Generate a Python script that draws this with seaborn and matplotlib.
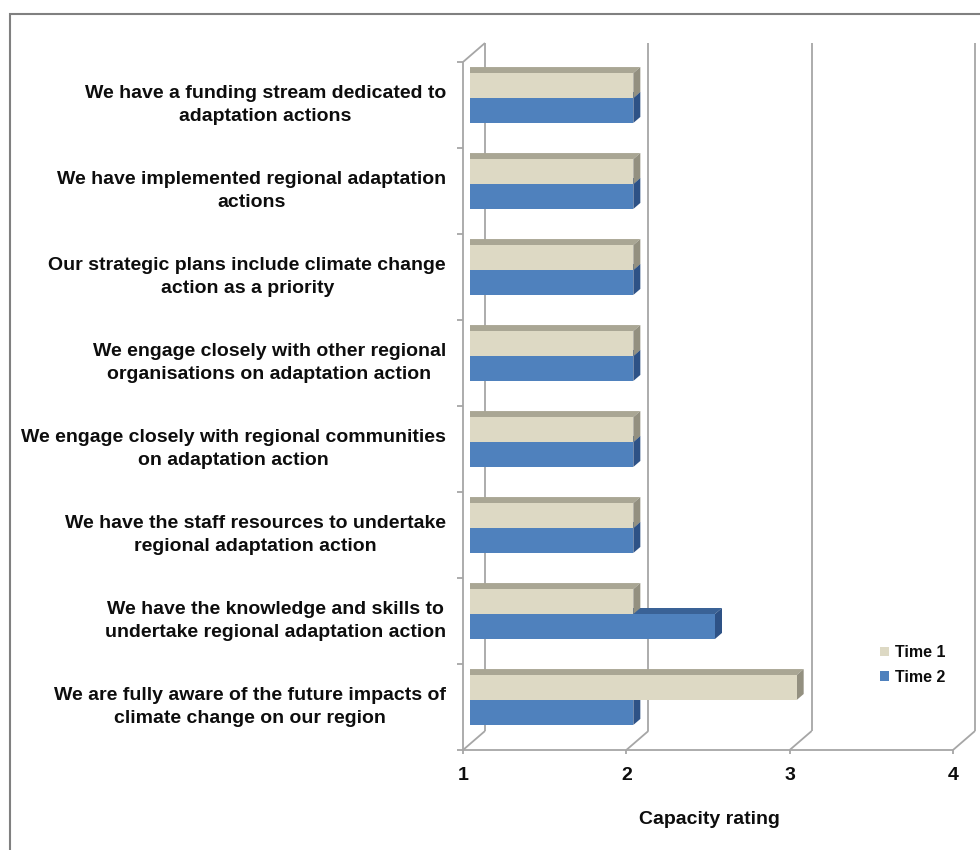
import matplotlib
matplotlib.use("Agg")
import matplotlib.pyplot as plt
from matplotlib.patches import Polygon, Rectangle
import seaborn as sns
import pandas as pd

# ---- data -------------------------------------------------------------
items = [
    "We have a funding stream dedicated to\nadaptation actions",
    "We have implemented regional adaptation\nactions",
    "Our strategic plans include climate change\naction as a priority",
    "We engage closely with other regional\norganisations on adaptation action",
    "We engage closely with regional communities\non adaptation action",
    "We have the staff resources to undertake\nregional adaptation action",
    "We have the knowledge and skills to\nundertake regional adaptation action",
    "We are fully aware of the future impacts of\nclimate change on our region",
]
time1 = [2, 2, 2, 2, 2, 2, 2, 3]
time2 = [2, 2, 2, 2, 2, 2, 2.5, 2]
periods = ["Time 1", "Time 2"]
x_ticks = [1, 2, 3, 4]
x_label = "Capacity rating"

df = pd.DataFrame({
    "item": items * 2,
    "period": [periods[0]] * len(items) + [periods[1]] * len(items),
    "rating": time1 + time2,
})

# ---- style ------------------------------------------------------------
sns.set_style("white")
plt.rcParams["font.family"] = ["Liberation Sans", "DejaVu Sans"]
plt.rcParams["font.weight"] = "bold"
plt.rcParams["text.color"] = "#0D0D0D"

front_cols = {"Time 1": "#DDD9C4", "Time 2": "#4F81BD"}
top_cols = {"Time 1": "#A9A694", "Time 2": "#3A6296"}
side_cols = {"Time 1": "#939080", "Time 2": "#2E5286"}
grid_col = "#A6A6A6"
text_col = "#0D0D0D"

fig = plt.figure(figsize=(9.8, 8.5), dpi=100)
ax = fig.add_axes([470 / 980, (850 - 743) / 850, 490 / 980, 688 / 850])

sns.barplot(data=df, x="rating", y="item", hue="period", order=items,
            hue_order=periods, palette=[front_cols[p] for p in periods],
            width=0.58, orient="h", linewidth=0, saturation=1,
            errorbar=None, ax=ax)
ax.set_xlim(x_ticks[0], x_ticks[-1])
ax.set_ylim(len(items) - 0.5, -0.5)
ax.set_axis_off()

# pixel -> data conversion (image convention: dx right, dy down)
ppx = ax.bbox.width / (x_ticks[-1] - x_ticks[0])
ppy = ax.bbox.height / len(items)


def off(dx_px, dy_px):
    return dx_px / ppx, dy_px / ppy


fx, fy = off(-7, 7)      # front plane
bx, by = off(15, -12)    # back wall plane
ddx, ddy = off(7, -6)    # bar depth

# ---- 3D faces of the bars ---------------------------------------------
for k, (period, cont) in enumerate(zip(periods, ax.containers)):
    zf = 3 - k
    for bar in cont:
        bar.set_zorder(zf)
        x0 = bar.get_x()
        x1 = x0 + bar.get_width()
        y0 = bar.get_y()
        h = bar.get_height()
        top = Polygon([(x0, y0), (x1, y0), (x1 + ddx, y0 + ddy), (x0 + ddx, y0 + ddy)],
                      closed=True, facecolor=top_cols[period], edgecolor="none",
                      zorder=zf - 0.1)
        side = Polygon([(x1, y0), (x1 + ddx, y0 + ddy), (x1 + ddx, y0 + h + ddy), (x1, y0 + h)],
                       closed=True, facecolor=side_cols[period], edgecolor="none",
                       zorder=zf - 0.1)
        ax.add_patch(top)
        ax.add_patch(side)

# ---- walls, floor and axis lines ----------------------------------------
ytop, ybot = -0.5, len(items) - 0.5
lkw = dict(color=grid_col, lw=1.3, clip_on=False, solid_capstyle="butt")
for v in x_ticks:
    ax.plot([v + bx, v + bx], [ytop + by, ybot + by], zorder=0.5, **lkw)
    ax.plot([v + fx, v + bx], [ybot + fy, ybot + by], zorder=0.5, **lkw)
    tx, ty = off(0, 4)
    ax.plot([v + fx, v + fx], [ybot + fy, ybot + fy + ty], zorder=0.5, **lkw)
ax.plot([x_ticks[0] + fx, x_ticks[0] + bx], [ytop + fy, ytop + by], zorder=0.5, **lkw)
ax.plot([x_ticks[0] + fx, x_ticks[0] + fx], [ytop + fy, ybot + fy], zorder=4, **lkw)
ax.plot([x_ticks[0] + fx, x_ticks[-1] + fx], [ybot + fy, ybot + fy], zorder=4, **lkw)
tlx, _ = off(6, 0)
for i in range(len(items) + 1):
    b = ytop + i
    ax.plot([x_ticks[0] + fx - tlx, x_ticks[0] + fx], [b + fy, b + fy], zorder=4, **lkw)

# ---- text ---------------------------------------------------------------
lx, ly = off(-24, 7)
for i, label in enumerate(items):
    ax.text(x_ticks[0] + lx, i + ly, label, ha="right", va="center",
            multialignment="center", linespacing=1.45,
            fontsize=14, fontweight="bold", color=text_col)

_, ty = off(0, 25)
for v in x_ticks:
    ax.text(v + fx, ybot + fy + ty, str(v), ha="center", va="center",
            fontsize=14, fontweight="bold", color=text_col)

fig.text(709 / 980, 1 - 820 / 850, x_label, ha="center", va="center",
         fontsize=14, fontweight="bold", color=text_col)

sns.move_legend(ax, "center left", bbox_to_anchor=(866 / 980, 1 - 665 / 850),
                bbox_transform=fig.transFigure, frameon=False, title=None,
                fontsize=11.5, handlelength=0.55, handleheight=0.55,
                handletextpad=0.35, labelspacing=0.6, labelcolor=text_col)

# outer chart frame
fig.add_artist(Rectangle((10 / 980, -0.2), 1.2, (850 - 14) / 850 + 0.2,
                         transform=fig.transFigure, fill=False,
                         edgecolor="#808080", lw=1.5))

fig.savefig("out.png", dpi=100)
